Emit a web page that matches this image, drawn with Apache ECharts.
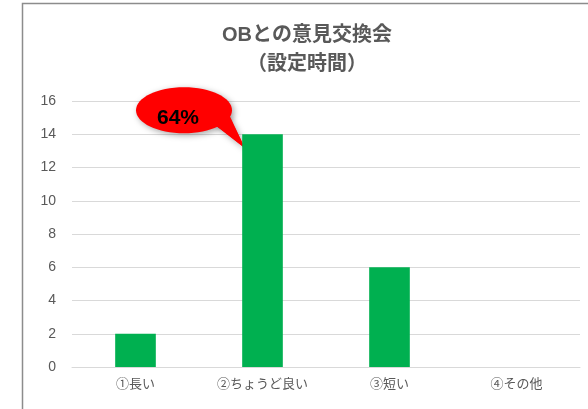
<!DOCTYPE html>
<html>
<head>
<meta charset="utf-8">
<script src="https://cdn.jsdelivr.net/npm/echarts@6/dist/echarts.min.js"></script>
<style>
  html, body { margin: 0; padding: 0; background: #fff; }
  #main { width: 588px; height: 409px; }
</style>
</head>
<body>
<div id="main"></div>
<script>
// データ
var categories = ["①長い", "②ちょうど良い", "③短い", "④その他"];
var counts = [2, 14, 6, 0];
var yTicks = { min: 0, max: 16, interval: 2 };
var calloutIndex = 1; // 吹き出しを付ける棒

var font = "'Liberation Sans', 'Noto Sans CJK JP', sans-serif";
var total = counts.reduce(function (a, b) { return a + b; }, 0);
var pct = Math.round(counts[calloutIndex] / total * 100) + "%";

var myChart = echarts.init(document.getElementById("main"));

myChart.setOption({
  animation: false,
  title: {
    text: "OBとの意見交換会\n（設定時間）",
    left: 302,
    textAlign: "center",
    top: 16,
    textStyle: {
      color: "#595959",
      fontSize: 20,
      fontWeight: "bold",
      fontFamily: font,
      lineHeight: 29
    }
  },
  grid: { left: 72, right: 8, top: 101, bottom: 42 },
  xAxis: {
    type: "category",
    data: categories,
    axisLine: { lineStyle: { color: "#d9d9d9" } },
    axisTick: { show: false },
    axisLabel: { color: "#595959", fontSize: 13, fontFamily: font, margin: 11 }
  },
  yAxis: {
    type: "value",
    min: yTicks.min,
    max: yTicks.max,
    interval: yTicks.interval,
    axisLine: { show: false },
    axisTick: { show: false },
    axisLabel: { color: "#595959", fontSize: 14, fontFamily: font, margin: 16 },
    splitLine: { lineStyle: { color: "#d9d9d9" } }
  },
  series: [{
    type: "bar",
    data: counts,
    barWidth: "32%",
    itemStyle: { color: "#00b050" }
  }]
});

// 吹き出し（棒の位置から計算）
function drawCallout() {
  var p = myChart.convertToPixel({ seriesIndex: 0 }, [calloutIndex, counts[calloutIndex]]);
  var bw = 41;
  var tipX = p[0] - bw / 2 + 3, tipY = p[1] + 14;
  var cx = tipX - 61, cy = tipY - 38;
  myChart.setOption({
    graphic: [
      {
        type: "rect",
        shape: { x: 22.5, y: 3.5, width: 600, height: 500 },
        style: { fill: null, stroke: "#8c8c8c", lineWidth: 1.5 },
        silent: true
      },
      {
        type: "group",
        children: [
          {
            type: "polygon",
            shape: { points: [[cx + 30, cy + 14], [cx + 44, cy + 4], [tipX, tipY]] },
            style: {
              fill: "#ff0000",
              shadowBlur: 6, shadowColor: "rgba(0,0,0,0.35)", shadowOffsetX: 2, shadowOffsetY: 2
            }
          },
          {
            type: "ellipse",
            shape: { cx: cx, cy: cy, rx: 48, ry: 23 },
            style: {
              fill: "#ff0000",
              shadowBlur: 6, shadowColor: "rgba(0,0,0,0.35)", shadowOffsetX: 2, shadowOffsetY: 2
            }
          },
          {
            type: "polygon",
            shape: { points: [[cx + 28, cy + 12], [cx + 44, cy + 2], [tipX, tipY]] },
            style: { fill: "#ff0000" }
          },
          {
            type: "text",
            style: {
              text: pct,
              x: cx - 6, y: cy + 8,
              align: "center", verticalAlign: "middle",
              fill: "#000",
              font: "bold 21px " + font
            }
          }
        ]
      }
    ]
  });
}
drawCallout();
</script>
</body>
</html>
